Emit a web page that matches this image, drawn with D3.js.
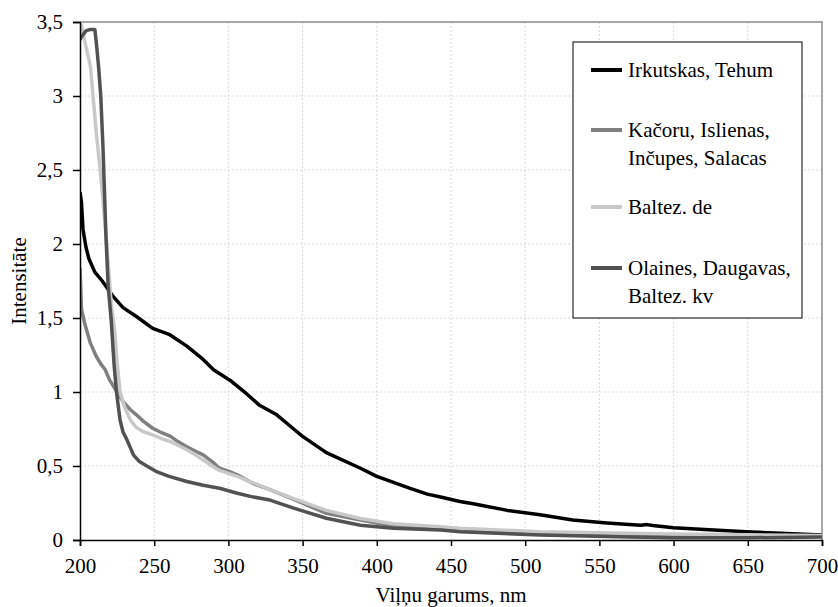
<!DOCTYPE html>
<html>
<head>
<meta charset="utf-8">
<script src="https://cdnjs.cloudflare.com/ajax/libs/d3/7.8.5/d3.min.js"></script>
<style>
  body { margin: 0; background: #fff; }
  svg text { font-family: "Liberation Serif", "Times New Roman", Times, serif; }
</style>
</head>
<body>
<div id="chart"></div>
<script>
// wavelength (nm) and intensity for each sample group
var irkNm = [200,201,202,204,206,210,215,222,229,238,249,260,272,283,290,301,312,321,332,344,350,366,389,400,422,434,443,456,465,488,510,532,555,570,578,582,586,600,627,649,672,700];
var irkVal = [2.35,2.28,2.1,1.98,1.9,1.81,1.75,1.65,1.57,1.51,1.43,1.39,1.31,1.22,1.15,1.08,0.99,0.91,0.85,0.75,0.70,0.59,0.485,0.43,0.35,0.31,0.29,0.26,0.245,0.20,0.17,0.135,0.115,0.105,0.10,0.104,0.098,0.083,0.068,0.056,0.045,0.034];

var kacNm = [200,201,203,207,211,214,217,220,225,229,234,238,243,249,255,261,266,272,278,283,289,294,300,306,317,328,344,366,389,411,442,456,500,550,600,650,700];
var kacVal = [1.84,1.56,1.47,1.33,1.24,1.19,1.15,1.08,1.0,0.935,0.88,0.846,0.8,0.755,0.725,0.70,0.665,0.63,0.6,0.575,0.53,0.485,0.465,0.44,0.38,0.34,0.275,0.18,0.135,0.095,0.08,0.07,0.05,0.04,0.035,0.028,0.025];

var balNm = [200.5,203,207,211,214.6,218,221,223.5,225,227,230,234,238,243,249,255,261,266,272,278,283,289,294,306,317,328,344,366,389,411,443,456,510,570,600,650,700];
var balVal = [3.5,3.38,3.2,2.75,2.4,2.0,1.6,1.4,1.2,1.0,0.9,0.81,0.76,0.73,0.71,0.685,0.665,0.64,0.61,0.575,0.54,0.50,0.47,0.43,0.385,0.34,0.28,0.2,0.145,0.11,0.09,0.08,0.056,0.045,0.04,0.035,0.03];

var olaNm = [200,201,204,207,210,211,212.5,214,215.5,216.5,217.5,219,221,223,224.7,227,229,231.5,236,240,245,252,260,272,283,294,306,317,328,344,366,389,411,443,456,510,570,600,650,700];
var olaVal = [3.38,3.4,3.44,3.45,3.45,3.36,3.2,3.0,2.65,2.35,2.05,1.71,1.49,1.18,0.99,0.81,0.73,0.68,0.575,0.53,0.5,0.46,0.43,0.395,0.37,0.35,0.316,0.29,0.27,0.215,0.147,0.10,0.08,0.068,0.056,0.034,0.02,0.015,0.015,0.02];

var seriesNames = [["Irkutskas, Tehum"], ["Kačoru, Islienas,", "Inčupes, Salacas"], ["Baltez. de"], ["Olaines, Daugavas,", "Baltez. kv"]];
var seriesColors = ["#000000", "#808080", "#c8c8c8", "#525252"];

var xTicks = [200,250,300,350,400,450,500,550,600,650,700];
var yTicks = [0,0.5,1,1.5,2,2.5,3,3.5];

var xTitle = "Viļņu garums, nm";
var yTitle = "Intensitāte";

const width = 838;
const height = 607;
const margin = {top: 22, right: 16, bottom: 67, left: 80};
const fontName = "\"Liberation Serif\", \"Times New Roman\", Times, serif";
const fontSize = 21;

var svg = d3.select("#chart").append("svg")
  .attr("width", width)
  .attr("height", height);

var x = d3.scaleLinear().domain([200, 700]).range([margin.left, width - margin.right]);
var y = d3.scaleLinear().domain([0, 3.5]).range([height - margin.bottom, margin.top]);

function zip(a, b) {
  return a.map((v, i) => [v, b[i]]);
}

var allSeries = [zip(irkNm, irkVal), zip(kacNm, kacVal), zip(balNm, balVal), zip(olaNm, olaVal)];

// text helper, same call for every label
function textAttr(selection, size, anchor) {
  selection
    .style("font-family", fontName)
    .attr("font-size", size)
    .attr("fill", "#000")
    .attr("text-anchor", anchor);
}

// dashed grid
svg.append("g").selectAll("line.vgrid")
  .data(xTicks.slice(1, -1))
  .enter().append("line")
  .attr("x1", d => x(d)).attr("x2", d => x(d))
  .attr("y1", y(0)).attr("y2", y(3.5))
  .attr("stroke", "#d9d9d9").attr("stroke-width", 1).attr("stroke-dasharray", "2,2");

svg.append("g").selectAll("line.hgrid")
  .data(yTicks.slice(1, -1))
  .enter().append("line")
  .attr("x1", x(200)).attr("x2", x(700))
  .attr("y1", d => y(d)).attr("y2", d => y(d))
  .attr("stroke", "#d9d9d9").attr("stroke-width", 1).attr("stroke-dasharray", "2,2");

// gray top and right border
svg.append("path")
  .attr("d", `M${x(200)},${y(3.5)}H${x(700)}V${y(0)}`)
  .attr("fill", "none").attr("stroke", "#8c8c8c").attr("stroke-width", 1.5);

// clip lines to plot area
svg.append("clipPath").attr("id", "plotclip")
  .append("rect")
  .attr("x", x(200)).attr("y", y(3.5) - 2)
  .attr("width", x(700) - x(200)).attr("height", y(0) - y(3.5) + 2);

var line = d3.line().x(d => x(d[0])).y(d => y(d[1]));

svg.append("g").attr("clip-path", "url(#plotclip)")
  .selectAll("path")
  .data(allSeries)
  .enter().append("path")
  .attr("d", line)
  .attr("fill", "none")
  .attr("stroke", (d, i) => seriesColors[i])
  .attr("stroke-width", 3.5)
  .attr("stroke-linejoin", "round");

// axes
var xAxis = svg.append("g")
  .attr("transform", `translate(0,${y(0)})`)
  .call(d3.axisBottom(x).tickValues(xTicks).tickSize(6).tickPadding(12).tickFormat(d3.format("d")));

var yAxis = svg.append("g")
  .attr("transform", `translate(${x(200)},0)`)
  .call(d3.axisLeft(y).tickValues(yTicks).tickSize(7).tickPadding(10).tickFormat(d => String(d).replace(".", ",")));

[xAxis, yAxis].forEach(a => {
  a.attr("font-family", null);
  a.select(".domain").attr("stroke", "#000").attr("stroke-width", 1.5);
  a.selectAll(".tick line").attr("stroke", "#000").attr("stroke-width", 1.5);
  a.selectAll(".tick text").style("font-family", fontName).attr("font-size", fontSize).attr("fill", "#000");
});

// axis titles
svg.append("text")
  .attr("x", (x(200) + x(700)) / 2)
  .attr("y", 602)
  .call(textAttr, fontSize, "middle")
  .text(xTitle);

svg.append("text")
  .attr("transform", `translate(26,${(y(0) + y(3.5)) / 2}) rotate(-90)`)
  .call(textAttr, fontSize, "middle")
  .text(yTitle);

// legend
var legend = svg.append("g");
legend.append("rect")
  .attr("x", 573).attr("y", 42)
  .attr("width", 229).attr("height", 276)
  .attr("fill", "#fff").attr("stroke", "#000").attr("stroke-width", 1);

var legendY = [70, 130, 207, 268];
var lineGap = 28;

seriesNames.forEach((names, i) => {
  legend.append("line")
    .attr("x1", 591).attr("x2", 622)
    .attr("y1", legendY[i]).attr("y2", legendY[i])
    .attr("stroke", seriesColors[i]).attr("stroke-width", 4);
  var t = legend.append("text")
    .attr("x", 628).attr("y", legendY[i] + 7)
    .call(textAttr, fontSize, "start");
  names.forEach((n, k) => {
    t.append("tspan").attr("x", 628).attr("dy", k === 0 ? 0 : lineGap).text(n);
  });
});
</script>
</body>
</html>
